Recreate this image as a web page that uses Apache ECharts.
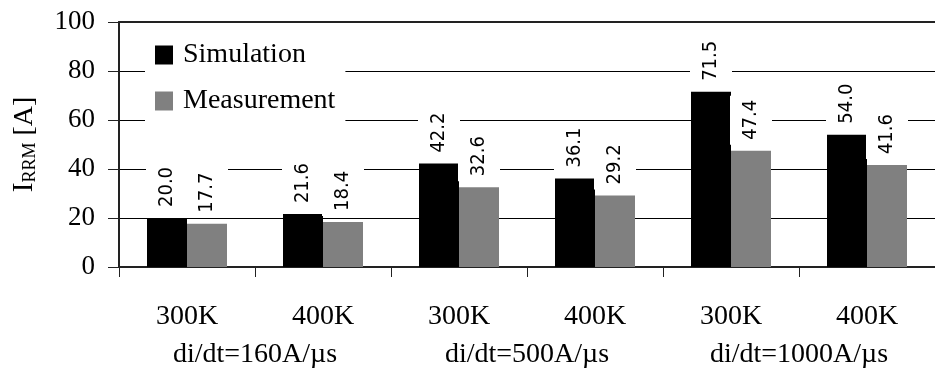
<!DOCTYPE html>
<html>
<head>
<meta charset="utf-8">
<script src="https://cdn.jsdelivr.net/npm/echarts@6/dist/echarts.min.js"></script>
<style>
html,body{margin:0;padding:0;background:#fff;overflow:hidden;}
#chart{width:935px;height:369px;}
</style>
</head>
<body>
<div id="chart"></div>
<script>
const categories = ['300K', '400K', '300K', '400K', '300K', '400K'];
const groups = ['di/dt=160A/\u00b5s', 'di/dt=500A/\u00b5s', 'di/dt=1000A/\u00b5s'];
const simulation = [20.0, 21.6, 42.2, 36.1, 71.5, 54.0];
const measurement = [17.7, 18.4, 32.6, 29.2, 47.4, 41.6];
const yTicks = { min: 0, max: 100, interval: 20 };

const SERIF = '"Liberation Serif", "Times New Roman", serif';
const NARROW = '"DejaVu Sans Condensed", "Liberation Sans Narrow", sans-serif';

const labelCfg = {
  show: true,
  position: 'top',
  rotate: 90,
  align: 'left',
  verticalAlign: 'middle',
  distance: 6,
  fontFamily: NARROW,
  fontSize: 20,
  lineHeight: 20,
  color: '#000',
  backgroundColor: '#fff',
  padding: [11, 4, 11, 5],
  formatter: p => p.value.toFixed(1)
};

const chart = echarts.init(document.getElementById('chart'), null, { renderer: 'canvas' });
chart.setOption({
  animation: false,
  backgroundColor: '#fff',
  grid: { left: 119, right: -9, top: 22, bottom: 102, containLabel: false },
  legend: {
    orient: 'vertical',
    left: 145,
    top: 23,
    backgroundColor: '#fff',
    padding: [17, 10, 10, 10],
    itemWidth: 18,
    itemHeight: 19,
    itemGap: 16,
    icon: 'rect',
    textStyle: { fontFamily: SERIF, fontSize: 28, color: '#000', lineHeight: 30, padding: [0, 0, 0, 5] },
    data: ['Simulation', 'Measurement']
  },
  xAxis: [
    {
      type: 'category',
      data: categories,
      position: 'bottom',
      axisLine: { show: true, lineStyle: { color: '#222', width: 2 } },
      axisTick: { show: true, length: 10, lineStyle: { color: '#222', width: 1 } },
      axisLabel: { margin: 36, fontFamily: SERIF, fontSize: 28, color: '#000' },
      splitLine: { show: false }
    },
    {
      type: 'category',
      data: groups,
      position: 'bottom',
      axisLine: { show: false },
      axisTick: { show: false },
      axisLabel: { margin: 74, fontFamily: SERIF, fontSize: 28, color: '#000' },
      splitLine: { show: false }
    },
    {
      type: 'category',
      data: categories,
      position: 'top',
      axisLine: { show: true, lineStyle: { color: '#222', width: 2 } },
      axisTick: { show: false },
      axisLabel: { show: false },
      splitLine: { show: false }
    }
  ],
  yAxis: {
    type: 'value',
    min: yTicks.min,
    max: yTicks.max,
    interval: yTicks.interval,
    name: '{i|I}{s|RRM}{n| [A]}',
    nameLocation: 'middle',
    nameGap: 80,
    nameTextStyle: {
      rich: {
        i: { fontFamily: SERIF, fontSize: 29, color: '#000', verticalAlign: 'bottom', lineHeight: 30 },
        s: { fontFamily: SERIF, fontSize: 18, color: '#000', verticalAlign: 'bottom', lineHeight: 24 },
        n: { fontFamily: SERIF, fontSize: 28, color: '#000', verticalAlign: 'bottom', lineHeight: 30 }
      }
    },
    axisLine: { show: true, lineStyle: { color: '#222', width: 2 } },
    axisTick: { show: true, length: 11, lineStyle: { color: '#222', width: 1 } },
    axisLabel: { margin: 24, fontFamily: SERIF, fontSize: 27, color: '#000', padding: [3, 0, 0, 0] },
    splitLine: { show: true, lineStyle: { color: '#000', width: 1 } }
  },
  series: [
    {
      name: 'Simulation',
      type: 'bar',
      xAxisIndex: 0,
      data: simulation,
      barWidth: 40,
      barGap: '0%',
      itemStyle: { color: '#000' },
      label: labelCfg
    },
    {
      name: 'Measurement',
      type: 'bar',
      xAxisIndex: 0,
      data: measurement,
      barWidth: 40,
      barGap: '0%',
      itemStyle: { color: '#808080' },
      label: labelCfg
    }
  ]
});
</script>
</body>
</html>
